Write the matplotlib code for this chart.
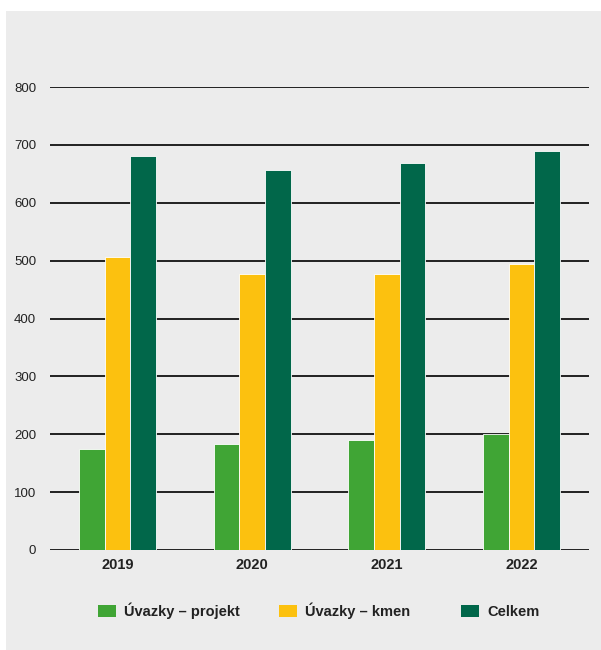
import numpy as np
import matplotlib.pyplot as plt
from matplotlib.patches import Rectangle

years = ["2019", "2020", "2021", "2022"]
projekt = [174, 183, 190, 201]
kmen = [507, 477, 477, 495]
celkem = [680, 656, 668, 689]

series = [("Úvazky – projekt", projekt, "#40a535"),
          ("Úvazky – kmen", kmen, "#fcc10f"),
          ("Celkem", celkem, "#01674a")]

bg = "#ececec"
plt.rcParams["font.family"] = ["Liberation Sans", "DejaVu Sans"]

W, H = 601, 650
fig = plt.figure(figsize=(W / 100, H / 100), dpi=100, facecolor="white")
# grey panel behind the whole chart
fig.patches.append(Rectangle((6 / W, 0), 1, 1 - 11 / H, transform=fig.transFigure,
                             facecolor=bg, edgecolor="none", zorder=-5))

ax = fig.add_axes([50 / W, 1 - 550 / H, 539 / W, (550 - 87) / H])
ax.set_zorder(2)
ax.set_facecolor(bg)

x = np.arange(len(years))
w = 0.19
for i, (name, vals, col) in enumerate(series):
    ax.bar(x + (i - 1) * w, vals, width=w, color=col, edgecolor="white",
           linewidth=0.6, label=name, zorder=3)

ax.set_xlim(-0.5, 3.5)
ax.set_ylim(0, 800)
ax.set_yticks(range(0, 801, 100))
ax.yaxis.grid(True, color="#111111", linewidth=1.3, zorder=1)
ax.set_axisbelow(True)
for s in ax.spines.values():
    s.set_visible(False)
ax.tick_params(axis="both", length=0)
ax.tick_params(axis="y", labelsize=9.5, pad=10, labelcolor="#222222")
ax.set_xticks(x)
ax.set_xticklabels(years, fontsize=10.5, fontweight="bold", color="#222222")
ax.tick_params(axis="x", pad=6)

# legend row: swatch + bold label, placed by pixel
legend_x = [98, 279, 461]
for (name, _, col), lx in zip(series, legend_x):
    fig.patches.append(Rectangle((lx / W, 1 - 617 / H), 18 / W, 12 / H,
                                 transform=fig.transFigure, facecolor=col,
                                 edgecolor="none", zorder=3))
    fig.text((lx + 26) / W, 1 - 616 / H, name, ha="left", va="baseline",
             fontsize=10.5, fontweight="bold", color="#222222")

fig.savefig("out.png", dpi=100, facecolor="white")
